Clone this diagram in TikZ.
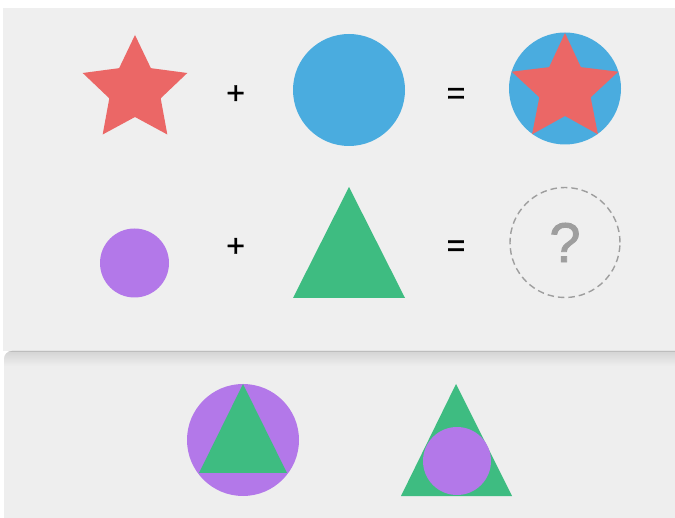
\documentclass[tikz,border=0pt]{standalone}
\usepackage{fontspec}
\setmainfont{Liberation Sans}
\newfontfamily\qfont[FakeBold=1.6]{Liberation Sans}
\newfontfamily\opfont[FakeBold=1.2]{Liberation Sans}
\definecolor{starred}{HTML}{EB6766}
\definecolor{ballblue}{HTML}{4AACDF}
\definecolor{lilac}{HTML}{B378E9}
\definecolor{leaf}{HTML}{3EBC81}
\definecolor{paneltop}{HTML}{EFEFEF}
\definecolor{panelbot}{HTML}{EEEEEE}
\definecolor{qgray}{HTML}{9E9E9E}
\definecolor{shadowc}{HTML}{D4D4D4}
\definecolor{edgec}{HTML}{BDBDBD}
\tikzset{
  disc/.style={circle, inner sep=0pt, draw=none},
  opsign/.style={font=\opfont\fontsize{32}{32}\selectfont, text=black, inner sep=0pt},
  qcircle/.style={circle, inner sep=0pt, draw=qgray, line width=1.4pt, dash pattern=on 6.5pt off 4pt},
  qmark/.style={font=\qfont\fontsize{56}{56}\selectfont, text=qgray, inner sep=0pt}
}
\begin{document}
\begin{tikzpicture}[x=1pt,y=-1pt]
\useasboundingbox (0,0) rectangle (675,518);
\fill[white] (0,0) rectangle (675,518);
% upper panel
\fill[paneltop] (3,8) rectangle (690,351);
% lower panel with shadow band
\begin{scope}
  \clip[rounded corners=8pt] (4,351) rectangle (700,540);
  \fill[panelbot] (4,351) rectangle (700,540);
  \shade[top color=shadowc, bottom color=panelbot] (4,351) rectangle (700,366);
  \fill[edgec] (4,350.5) rectangle (700,352);
\end{scope}

% ---- row 1 ----
\fill[starred] (135,90) +(-90:55) -- +(-54:27) -- +(-18:55) -- +(18:27) -- +(54:55)
  -- +(90:27) -- +(126:55) -- +(162:27) -- +(198:55) -- +(234:27) -- cycle;
\coordinate (star1) at (135,90);
\node[opsign] (plus1) at (235.7,94.5) {+};
\node[disc, fill=ballblue, minimum size=112pt] (blue1) at (349,90) {};
\node[opsign] (eq1) at (456,96) {=};
\node[disc, fill=ballblue, minimum size=112pt] (blue2) at (565,88.5) {};
\fill[starred] (565,89) +(-90:56) -- +(-54:27) -- +(-18:56) -- +(18:27) -- +(54:56)
  -- +(90:27) -- +(126:56) -- +(162:27) -- +(198:56) -- +(234:27) -- cycle;

% ---- row 2 ----
\node[disc, fill=lilac, minimum size=69pt] (lil1) at (134.5,263) {};
\node[opsign] (plus2) at (235.7,247.3) {+};
\fill[leaf] (349,187) -- (405,298) -- (293,298) -- cycle;
\coordinate (tri1) at (349,250);
\node[opsign] (eq2) at (456,248.5) {=};
\node[qcircle, minimum size=110pt] (qc) at (565,242.5) {};
\node[qmark] (q) at (565,242.5) {?};

% ---- answers ----
\node[disc, fill=lilac, minimum size=112pt] (lil2) at (243,440) {};
\fill[leaf] (243,384) -- (287,473) -- (199,473) -- cycle;
\fill[leaf] (456,384) -- (512,496) -- (401,496) -- cycle;
\node[disc, fill=lilac, minimum size=68pt] (lil3) at (457,461) {};
\end{tikzpicture}
\end{document}
